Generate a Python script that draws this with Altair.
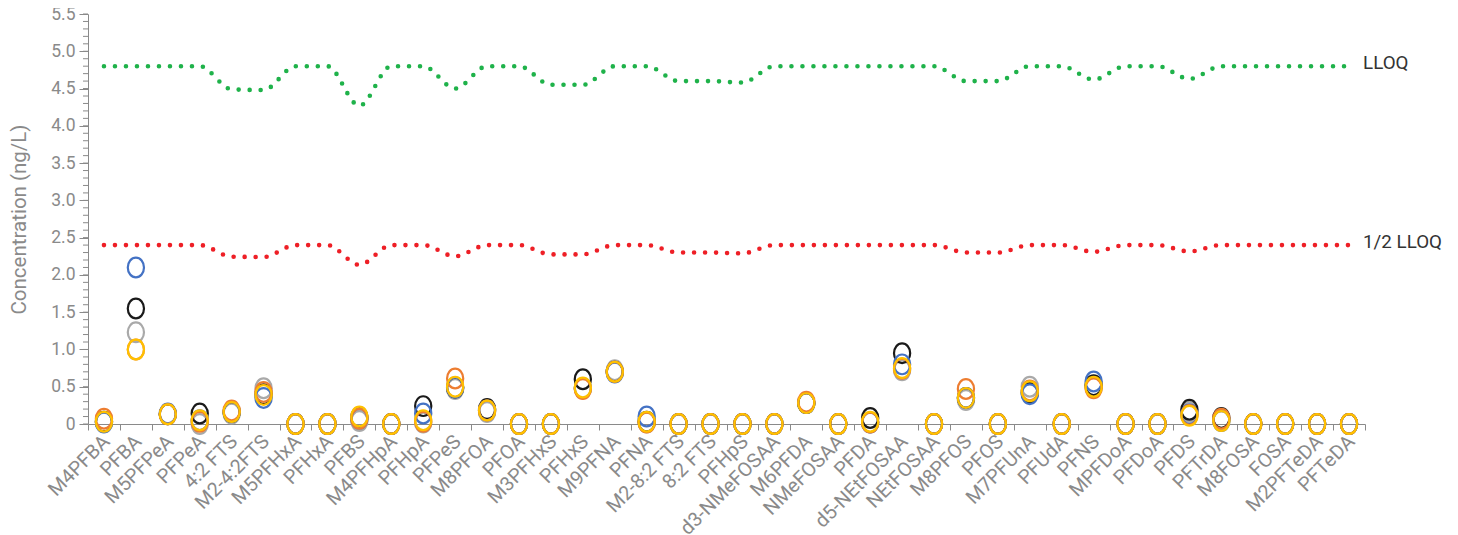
import altair as alt
import pandas as pd
import numpy as np

categories = ["M4PFBA", "PFBA", "M5PFPeA", "PFPeA", "4:2 FTS", "M2-4:2FTS", "M5PFHxA", "PFHxA",
              "PFBS", "M4PFHpA", "PFHpA", "PFPeS", "M8PFOA", "PFOA", "M3PFHxS", "PFHxS",
              "M9PFNA", "PFNA", "M2-8:2 FTS", "8:2 FTS", "PFHpS", "d3-NMeFOSAA", "M6PFDA",
              "NMeFOSAA", "PFDA", "d5-NEtFOSAA", "NEtFOSAA", "M8PFOS", "PFOS", "M7PFUnA",
              "PFUdA", "PFNS", "MPFDoA", "PFDoA", "PFDS", "PFTrDA", "M8FOSA", "FOSA",
              "M2PFTeDA", "PFTeDA"]

grey_vals = [0.03, 1.23, 0.13, 0.00, 0.14, 0.48, 0, 0, 0.04, 0, 0.02, 0.47, 0.16, 0, 0, 0.48,
             0.72, 0.02, 0, 0, 0, 0, 0.28, 0, 0.02, 0.72, 0, 0.32, 0, 0.50, 0, 0.50, 0, 0,
             0.16, 0.05, 0, 0, 0, 0]
black_vals = [0.03, 1.55, 0.13, 0.14, 0.16, 0.40, 0, 0, 0.09, 0, 0.24, 0.49, 0.20, 0, 0, 0.60,
              0.70, 0.03, 0, 0, 0, 0, 0.28, 0, 0.08, 0.95, 0, 0.35, 0, 0.42, 0, 0.52, 0, 0,
              0.19, 0.08, 0, 0, 0, 0]
blue_vals = [0.02, 2.10, 0.14, 0.05, 0.16, 0.35, 0, 0, 0.07, 0, 0.14, 0.49, 0.18, 0, 0, 0.48,
             0.69, 0.10, 0, 0, 0, 0, 0.28, 0, 0.02, 0.80, 0, 0.35, 0, 0.40, 0, 0.57, 0, 0,
             0.13, 0.04, 0, 0, 0, 0]
orange_vals = [0.07, 1.00, 0.13, 0.03, 0.18, 0.43, 0, 0, 0.07, 0, 0.03, 0.61, 0.18, 0, 0, 0.47,
               0.70, 0.02, 0, 0, 0, 0, 0.30, 0, 0.02, 0.74, 0, 0.47, 0, 0.45, 0, 0.48, 0, 0,
               0.12, 0.07, 0, 0, 0, 0]
yellow_vals = [0.03, 1.00, 0.13, 0.05, 0.16, 0.39, 0, 0, 0.10, 0, 0.05, 0.50, 0.18, 0, 0, 0.49,
               0.70, 0.03, 0, 0, 0, 0, 0.28, 0, 0.03, 0.75, 0, 0.35, 0, 0.44, 0, 0.50, 0, 0,
               0.11, 0.04, 0, 0, 0, 0]

lloq = [4.8, 4.8, 4.8, 4.8, 4.49, 4.48, 4.8, 4.8, 4.27, 4.8, 4.8, 4.5, 4.8, 4.8, 4.55, 4.55,
        4.8, 4.8, 4.6, 4.6, 4.58, 4.8, 4.8, 4.8, 4.8, 4.8, 4.8, 4.6, 4.6, 4.8, 4.8, 4.62,
        4.8, 4.8, 4.63, 4.8, 4.8, 4.8, 4.8, 4.8]
half_lloq = [2.4, 2.4, 2.4, 2.4, 2.245, 2.24, 2.4, 2.4, 2.135, 2.4, 2.4, 2.25, 2.4, 2.4, 2.275,
             2.275, 2.4, 2.4, 2.3, 2.3, 2.29, 2.4, 2.4, 2.4, 2.4, 2.4, 2.4, 2.3, 2.3, 2.4, 2.4,
             2.31, 2.4, 2.4, 2.315, 2.4, 2.4, 2.4, 2.4, 2.4]

y_tick_values = [0, 0.5, 1, 1.5, 2, 2.5, 3, 3.5, 4, 4.5, 5, 5.5]

series_names = ["Grey", "Black", "Blue", "Orange", "Yellow"]
series_colors = ["#A9A9A9", "#1A1A1A", "#4472C4", "#ED7D31", "#FFC000"]
series_values = [grey_vals, black_vals, blue_vals, orange_vals, yellow_vals]

rows = []
for name, vals in zip(series_names, series_values):
    for c, v in zip(categories, vals):
        rows.append({"compound": c, "series": name, "value": v})
pts = pd.DataFrame(rows)

lines = pd.DataFrame(
    [{"compound": c, "line": "LLOQ", "value": v} for c, v in zip(categories, lloq)]
    + [{"compound": c, "line": "1/2 LLOQ", "value": v} for c, v in zip(categories, half_lloq)]
)
labels = pd.DataFrame([
    {"compound": categories[-1], "line": "LLOQ", "value": lloq[-1]},
    {"compound": categories[-1], "line": "1/2 LLOQ", "value": half_lloq[-1]},
])
minor = pd.DataFrame({"compound": categories[0], "value": np.round(np.arange(0, 5.51, 0.1), 2)})

W, H = 1277, 410
PAD_L, PAD_T = 80, 6
PAD_R = 1442 - W - PAD_L
PAD_B = 527 - H - PAD_T
AX = "#8a8a8a"
xscale = alt.Scale(domain=categories, paddingInner=0, paddingOuter=0)
yscale = alt.Scale(domain=[0, 5.5], nice=False)

x_axis = alt.Axis(labelAngle=-45, labelFontSize=19.8, labelColor=AX, labelFont="Roboto",
                  tickBand="extent", tickSize=6, tickColor=AX, domainColor=AX,
                  labelPadding=1, labelOffset=-5, labelOverlap=False, title=None)
y_axis = alt.Axis(values=y_tick_values,
                  labelExpr="datum.value == 0 ? '0' : format(datum.value, '.1f')",
                  labelFontSize=17.5, labelColor=AX, labelFont="Roboto",
                  labelOverlap=False, labelFlush=False,
                  titleFontSize=20.5, titleColor=AX, titleFont="Roboto",
                  titleFontWeight="normal", tickSize=9, tickColor=AX,
                  domainColor=AX, grid=False, titlePadding=21, labelPadding=4,
                  title="Concentration (ng/L)")

def X():
    return alt.X("compound:N", scale=xscale, sort=categories, axis=x_axis, title=None)

def Y():
    return alt.Y("value:Q", scale=yscale, axis=y_axis, title="Concentration (ng/L)")

minor_ticks = alt.Chart(minor).mark_rule(color=AX, strokeWidth=1).encode(
    y=Y(), x=alt.value(-5), x2=alt.value(0),
)

line_layer = alt.Chart(lines).mark_line(
    interpolate="monotone", strokeDash=[0, 11], strokeCap="round", strokeWidth=4.6
).encode(
    x=X(), y=Y(),
    color=alt.Color("line:N", scale=alt.Scale(domain=["LLOQ", "1/2 LLOQ"],
                                              range=["#1FB24A", "#EE1F26"]), legend=None),
    detail="line:N",
)

text_layer = alt.Chart(labels).mark_text(
    align="left", baseline="middle", dx=14, dy=-3, fontSize=18.8, font="Roboto", color="#333333"
).encode(
    x=X(), y=Y(), text="line:N",
)

ellipse = "M -0.82 0 A 0.82 1 0 1 0 0.82 0 A 0.82 1 0 1 0 -0.82 0 Z"
point_layer = alt.Chart(pts).mark_point(
    shape=ellipse, filled=False, size=390, strokeWidth=2.2, opacity=1, clip=False
).encode(
    x=X(), y=Y(),
    stroke=alt.Stroke("series:N", scale=alt.Scale(domain=series_names, range=series_colors),
                      legend=None),
)

chart = alt.layer(line_layer, minor_ticks, point_layer, text_layer).resolve_scale(
    color="independent", stroke="independent"
).properties(
    width=W, height=H,
    autosize=alt.AutoSizeParams(type="none"),
    padding={"left": PAD_L, "top": PAD_T, "right": PAD_R, "bottom": PAD_B},
).configure(font="Roboto").configure_view(strokeWidth=0, stroke="transparent")

chart.save("out.html", embed_options={"renderer": "svg", "actions": False})
